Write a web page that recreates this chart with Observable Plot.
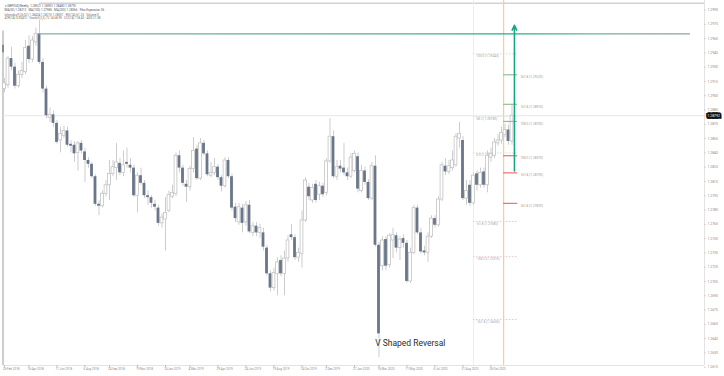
<!DOCTYPE html>
<html><head><meta charset="utf-8">
<script src="https://cdn.jsdelivr.net/npm/d3@7"></script>
<script src="https://cdn.jsdelivr.net/npm/@observablehq/plot@0.6"></script>
<style>
html,body{margin:0;padding:0;background:#fff;}
#chart{width:724px;height:376px;overflow:hidden;}
</style></head><body><div id="chart"></div>
<script>
// ---- candle data (weekly OHLC) ----
const opens = [
1.2907,1.2911,1.2939,1.2930,1.2910,1.2922,1.2925,1.2952,1.2938,1.2956,
1.2965,1.2935,1.2907,1.2877,1.2880,1.2871,1.2853,1.2858,1.2863,1.2849,
1.2848,1.2840,1.2850,1.2841,1.2832,1.2828,1.2815,1.2786,1.2784,1.2797,
1.2806,1.2818,1.2824,1.2829,1.2819,1.2830,1.2827,1.2824,1.2795,1.2816,
1.2808,1.2795,1.2793,1.2786,1.2782,1.2766,1.2770,1.2779,1.2794,1.2797,
1.2837,1.2824,1.2807,1.2804,1.2823,1.2844,1.2813,1.2850,1.2839,1.2816,
1.2819,1.2825,1.2814,1.2805,1.2832,1.2815,1.2783,1.2767,1.2782,1.2767,
1.2785,1.2756,1.2763,1.2756,1.2756,1.2740,1.2713,1.2698,1.2713,1.2727,
1.2713,1.2729,1.2754,1.2751,1.2730,1.2734,1.2769,1.2804,1.2790,1.2807,
1.2796,1.2805,1.2798,1.2831,1.2857,1.2815,1.2826,1.2824,1.2819,1.2815,
1.2821,1.2836,1.2800,1.2821,1.2809,1.2792,1.2826,1.2743,1.2721,1.2749,
1.2722,1.2748,1.2753,1.2740,1.2750,1.2745,1.2705,1.2735,1.2782,1.2756,
1.2737,1.2735,1.2752,1.2771,1.2764,1.2791,1.2826,1.2820,1.2824,1.2827,
1.2855,1.2853,1.2792,1.2806,1.2787,1.2818,1.2806,1.2820,1.2806,1.2835,
1.2837,1.2850,1.2853,1.2859,1.2864,1.2852];
const highs = [
1.2918,1.2941,1.2951,1.2934,1.2926,1.2935,1.2958,1.2963,1.2962,1.2971,
1.2979,1.2939,1.2910,1.2887,1.2884,1.2874,1.2867,1.2868,1.2867,1.2853,
1.2852,1.2852,1.2853,1.2845,1.2835,1.2830,1.2817,1.2790,1.2800,1.2811,
1.2832,1.2832,1.2850,1.2834,1.2842,1.2845,1.2834,1.2827,1.2819,1.2824,
1.2811,1.2800,1.2795,1.2790,1.2785,1.2776,1.2793,1.2800,1.2806,1.2840,
1.2842,1.2827,1.2811,1.2826,1.2856,1.2848,1.2855,1.2853,1.2842,1.2830,
1.2834,1.2828,1.2816,1.2835,1.2835,1.2818,1.2787,1.2787,1.2786,1.2789,
1.2790,1.2767,1.2767,1.2765,1.2761,1.2743,1.2716,1.2719,1.2730,1.2732,
1.2737,1.2753,1.2765,1.2754,1.2740,1.2779,1.2814,1.2808,1.2807,1.2811,
1.2809,1.2808,1.2834,1.2876,1.2863,1.2832,1.2832,1.2850,1.2824,1.2839,
1.2842,1.2840,1.2827,1.2825,1.2812,1.2830,1.2837,1.2746,1.2752,1.2752,
1.2755,1.2761,1.2756,1.2752,1.2754,1.2748,1.2740,1.2785,1.2785,1.2761,
1.2742,1.2756,1.2774,1.2774,1.2794,1.2830,1.2834,1.2832,1.2842,1.2860,
1.2872,1.2857,1.2811,1.2811,1.2819,1.2821,1.2824,1.2824,1.2842,1.2845,
1.2855,1.2859,1.2867,1.2870,1.2869,1.2890];
const lows = [
1.2903,1.2908,1.2926,1.2907,1.2908,1.2918,1.2922,1.2934,1.2935,1.2952,
1.2933,1.2903,1.2876,1.2872,1.2867,1.2849,1.2840,1.2855,1.2846,1.2840,
1.2830,1.2821,1.2839,1.2809,1.2824,1.2813,1.2784,1.2774,1.2782,1.2794,
1.2790,1.2815,1.2811,1.2816,1.2815,1.2824,1.2819,1.2793,1.2777,1.2806,
1.2792,1.2785,1.2782,1.2779,1.2763,1.2761,1.2737,1.2777,1.2792,1.2794,
1.2819,1.2805,1.2788,1.2800,1.2819,1.2811,1.2811,1.2837,1.2815,1.2814,
1.2816,1.2811,1.2799,1.2803,1.2813,1.2779,1.2767,1.2764,1.2756,1.2763,
1.2755,1.2752,1.2752,1.2750,1.2737,1.2711,1.2694,1.2695,1.2690,1.2710,
1.2690,1.2725,1.2748,1.2727,1.2725,1.2719,1.2767,1.2790,1.2787,1.2787,
1.2790,1.2793,1.2795,1.2829,1.2813,1.2811,1.2819,1.2816,1.2811,1.2813,
1.2819,1.2798,1.2798,1.2806,1.2790,1.2790,1.2741,1.2625,1.2716,1.2716,
1.2719,1.2729,1.2735,1.2727,1.2740,1.2703,1.2703,1.2733,1.2754,1.2734,
1.2732,1.2725,1.2750,1.2761,1.2762,1.2789,1.2816,1.2817,1.2821,1.2825,
1.2845,1.2790,1.2785,1.2784,1.2785,1.2800,1.2803,1.2803,1.2798,1.2830,
1.2834,1.2847,1.2849,1.2856,1.2848,1.2848];
const closes = [
1.2913,1.2939,1.2930,1.2910,1.2922,1.2926,1.2950,1.2938,1.2958,1.2965,
1.2935,1.2907,1.2879,1.2880,1.2871,1.2851,1.2860,1.2863,1.2848,1.2847,
1.2839,1.2850,1.2842,1.2832,1.2828,1.2815,1.2786,1.2784,1.2797,1.2806,
1.2818,1.2825,1.2830,1.2819,1.2827,1.2828,1.2824,1.2795,1.2816,1.2808,
1.2795,1.2793,1.2787,1.2783,1.2766,1.2772,1.2777,1.2796,1.2798,1.2837,
1.2824,1.2808,1.2804,1.2823,1.2842,1.2813,1.2850,1.2839,1.2817,1.2819,
1.2825,1.2814,1.2805,1.2832,1.2815,1.2782,1.2771,1.2783,1.2766,1.2785,
1.2757,1.2763,1.2756,1.2761,1.2741,1.2713,1.2698,1.2714,1.2725,1.2713,
1.2729,1.2748,1.2751,1.2730,1.2735,1.2769,1.2811,1.2794,1.2803,1.2790,
1.2805,1.2796,1.2831,1.2857,1.2815,1.2825,1.2823,1.2819,1.2815,1.2835,
1.2839,1.2802,1.2821,1.2809,1.2792,1.2826,1.2743,1.2650,1.2748,1.2721,
1.2753,1.2754,1.2740,1.2749,1.2745,1.2705,1.2735,1.2782,1.2756,1.2736,
1.2735,1.2752,1.2771,1.2764,1.2791,1.2827,1.2820,1.2826,1.2832,1.2857,
1.2860,1.2792,1.2800,1.2787,1.2816,1.2806,1.2819,1.2806,1.2837,1.2839,
1.2851,1.2853,1.2861,1.2864,1.2852,1.2879];

// ---- axes ----
const yTicks = [1.2990,1.2975,1.2960,1.2945,1.2930,1.2915,1.2900,1.2885,1.2870,1.2855,1.2840,1.2825,1.2810,
                1.2795,1.2780,1.2765,1.2750,1.2735,1.2720,1.2705,1.2690,1.2675,1.2660,1.2645,1.2630,1.2615];
const yTickLabels = ["1.2990","1.2975","1.2960","1.2945","1.2930","1.2915","1.2900","1.2885","1.2870","1.2855","1.2840","1.2825","1.2810",
                     "1.2795","1.2780","1.2765","1.2750","1.2735","1.2720","1.2705","1.2690","1.2675","1.2660","1.2645","1.2630","1.2615"];
const xTickIdx = [0,7,15,23,30,38,46,53,61,69,77,85,92,100,107,115,123,131,139];
const xTickLabels = ["26 Feb 2018","16 Apr 2018","11 Jun 2018","6 Aug 2018","24 Sep 2018","19 Nov 2018","14 Jan 2019",
  "4 Mar 2019","29 Apr 2019","24 Jun 2019","19 Aug 2019","14 Oct 2019","2 Dec 2019","27 Jan 2020","16 Mar 2020",
  "11 May 2020","6 Jul 2020","31 Aug 2020","26 Oct 2020"];

// ---- drawings ----
const lastPrice = 1.2879;
const lastLabel = "1.28792";
const resLevel = [1.2965];           // horizontal level from the top
const resStart = 10, resEnd = 196;   // candle indices
const arrowSpec = [{x: 145.7, from: 1.2821, to: 1.2974}];
const fibStartIdx = 134, fibEndIdx = 146.6;
const orangeIdx = 142.6;
const fibLeftLevels = [1.2944, 1.2878, 1.2840, 1.2768, 1.2731, 1.2665];
const fibLeftLabels = ["100.0 (1.29443)","38.2 (1.28780)","0.0 (1.28402)","-61.8 (1.27680)","-100.0 (1.27310)","-161.8 (1.26650)"];
const fibRightLevels = [1.2922, 1.2891, 1.2873, 1.2837, 1.2819, 1.2787];
const fibRightLabels = ["261.8 (1.29220)","161.8 (1.28910)","100.0 (1.28730)","100.0 (1.28370)","161.8 (1.28190)","261.8 (1.27870)"];
const annText = "V Shaped Reversal";
const annX = 105.9, annY = 1.2640;
const legendTop = ["\u25BE GBPUSD,Weekly  1.28521 1.28903 1.28480 1.28792",
                   "MA(50) 1.28213   MA(100) 1.27985   MA(200) 1.28366   Fibo Expansion 36"];
const legendBottom = ["Ichimoku(9,26,52) 1.28434 1.28215 1.28301 · RSI(14) 61.25 · Volume 0",
                      "ATR(14) 0.00412 · Stoch(5,3,3) 72.14 68.90 · CCI(14) 118.43 · ADX 21.08"];

const candles = opens.map((o, i) => ({i, open: o, high: highs[i], low: lows[i], close: closes[i]}));
const bulls = candles.filter(d => d.close >= d.open);
const bears = candles.filter(d => d.close < d.open);
const fibA = fibLeftLevels.map((p, i) => ({price: p, label: fibLeftLabels[i], up: i < 3}));
const fibB = fibRightLevels.map((p, i) => ({price: p, label: fibRightLabels[i], up: i < 3}));

const yMin = 1.261675, yMax = 1.3;
const xMin = -0.2857, xMax = 200;
const hw = 0.4;

const chart = Plot.plot({
  width: 724, height: 376,
  marginLeft: 3, marginRight: 20, marginTop: 0, marginBottom: 11,
  style: {fontFamily: "Roboto, 'Open Sans', sans-serif", background: "#fff", overflow: "visible"},
  x: {domain: [xMin, xMax], axis: null},
  y: {domain: [yMin, yMax], axis: null},
  marks: [
    // frame pieces
    Plot.ruleY([yMin], {stroke: "#e3e3e3"}),
    Plot.ruleX([xMax], {stroke: "#e3e3e3"}),
    Plot.ruleY([1.2997], {x1: resStart, x2: xMax, stroke: "#d2d2d2", strokeWidth: 1.5}),
    Plot.ruleX([xMin - 0.15], {y1: 1.2968, y2: yMin, stroke: "#cdcdcd", strokeWidth: 2}),
    Plot.ruleX([xMin - 0.15], {y1: 1.2953, y2: 1.2945, stroke: "#8a8a8a", strokeWidth: 2}),
    // current price line
    Plot.ruleY([lastPrice], {stroke: "#e6e6e6"}),
    // vertical markers
    Plot.ruleX([fibStartIdx], {stroke: "#eef2d8", strokeWidth: 1}),
    Plot.ruleX([orangeIdx], {stroke: "#fbcb92", strokeWidth: 1.2}),
    // left fib set (dotted)
    Plot.ruleY(fibA.filter(d => d.up), {y: "price", x1: fibStartIdx, x2: fibEndIdx, stroke: "#d4dccf", strokeDasharray: "1.5,1.5"}),
    Plot.ruleY(fibA.filter(d => !d.up), {y: "price", x1: fibStartIdx, x2: fibEndIdx, stroke: "#f3c4c4", strokeDasharray: "1.5,1.5"}),
    Plot.text(fibA, {x: fibStartIdx + 0.8, y: "price", text: "label", textAnchor: "start", dy: 2.3, fontSize: 3.2, fill: "#a6a6a6"}),
    // candles
    Plot.ruleX(candles, {x: "i", y1: "low", y2: "high", stroke: "#cdcdcd", strokeWidth: 1}),
    Plot.rect(bulls, {x1: d => d.i - hw, x2: d => d.i + hw, y1: "open", y2: "close", fill: "#ffffff", stroke: "#c4c4c4", strokeWidth: 0.8}),
    Plot.rect(bears, {x1: d => d.i - hw, x2: d => d.i + hw, y1: "open", y2: "close", fill: "#6a778a"}),
    // right fib set
    Plot.ruleY(fibB.filter(d => d.up), {y: "price", x1: orangeIdx, x2: fibEndIdx, stroke: "#8fc08f", strokeWidth: 1.2}),
    Plot.ruleY(fibB.filter(d => !d.up), {y: "price", x1: orangeIdx, x2: fibEndIdx, stroke: "#f26c6c", strokeWidth: 1.2}),
    Plot.text(fibB, {x: fibEndIdx + 0.8, y: "price", text: "label", textAnchor: "start", dy: 2.2, fontSize: 3.2, fill: "#9a9a9a"}),
    // horizontal level (gradient applied below; identified by its unusual width)
    Plot.ruleY(resLevel, {x1: resStart, x2: resEnd, stroke: "#2aae8e", strokeWidth: 1.41}),
    // arrow
    Plot.arrow(arrowSpec, {x1: "x", x2: "x", y1: "from", y2: "to", stroke: "#16a586", strokeWidth: 1.6, headLength: 5, headAngle: 50}),
    // annotation
    Plot.text([annText], {x: annX, y: annY, text: d => d, textAnchor: "start", fontSize: 8.5, fill: "#2b2b2b"}),
    // y axis (right)
    Plot.ruleY(yTicks, {x1: xMax, x2: xMax + 0.5, stroke: "#cfcfcf"}),
    Plot.text(yTicks, {y: d => d, text: (d, i) => yTickLabels[i], frameAnchor: "right", dx: 3, textAnchor: "start", fontSize: 3.4, fill: "#8c8c8c"}),
    Plot.text([lastPrice], {y: d => d, text: () => lastLabel, frameAnchor: "right", dx: 3, textAnchor: "start", fontSize: 3.4,
      fill: "#ffffff", stroke: "#111111", strokeWidth: 3.4, strokeLinejoin: "miter", paintOrder: "stroke"}),
    // x axis (bottom)
    Plot.ruleX(xTickIdx, {x: d => d, y1: yMin, y2: yMin - 0.00025, stroke: "#bdbdbd"}),
    Plot.text(xTickIdx, {x: d => d, text: (d, i) => xTickLabels[i], frameAnchor: "bottom", dy: 4, dx: -1.5, textAnchor: "start", fontSize: 3, fill: "#8c8c8c"}),
    // legend text top-left
    Plot.text([legendTop.join("\n")], {frameAnchor: "top-left", dx: 1, dy: 4.2, lineAnchor: "top", lineHeight: 1.15, fontSize: 3, fill: "#555"}),
    Plot.text([legendBottom.join("\n")], {frameAnchor: "top-left", dx: 1, dy: 12.8, lineAnchor: "top", lineHeight: 1.15, fontSize: 3, fill: "#6a6a6a"})
  ]
});

// gradient for the horizontal level (grey-teal, teal near the arrow, fading to grey at the right end)
const xs = chart.scale("x");
const gx1 = xs.apply(resStart), gx2 = xs.apply(resEnd);
const defs = d3.select(chart).insert("defs", ":first-child");
const grad = defs.append("linearGradient").attr("id", "resGrad").attr("gradientUnits", "userSpaceOnUse")
  .attr("x1", gx1).attr("x2", gx2).attr("y1", 0).attr("y2", 0);
grad.append("stop").attr("offset", "0").attr("stop-color", "#86aea5");
grad.append("stop").attr("offset", "0.6").attr("stop-color", "#4daa93");
grad.append("stop").attr("offset", "0.72").attr("stop-color", "#1fae8b");
grad.append("stop").attr("offset", "0.85").attr("stop-color", "#66b3a0");
grad.append("stop").attr("offset", "1").attr("stop-color", "#9c9c9c");
d3.select(chart).selectAll('g[stroke-width="1.41"]').each(function() {
  d3.select(this).attr("stroke", "url(#resGrad)");
  d3.select(this).selectAll("line").attr("stroke", "url(#resGrad)");
});

document.getElementById("chart").appendChild(chart);
</script>
</body></html>
